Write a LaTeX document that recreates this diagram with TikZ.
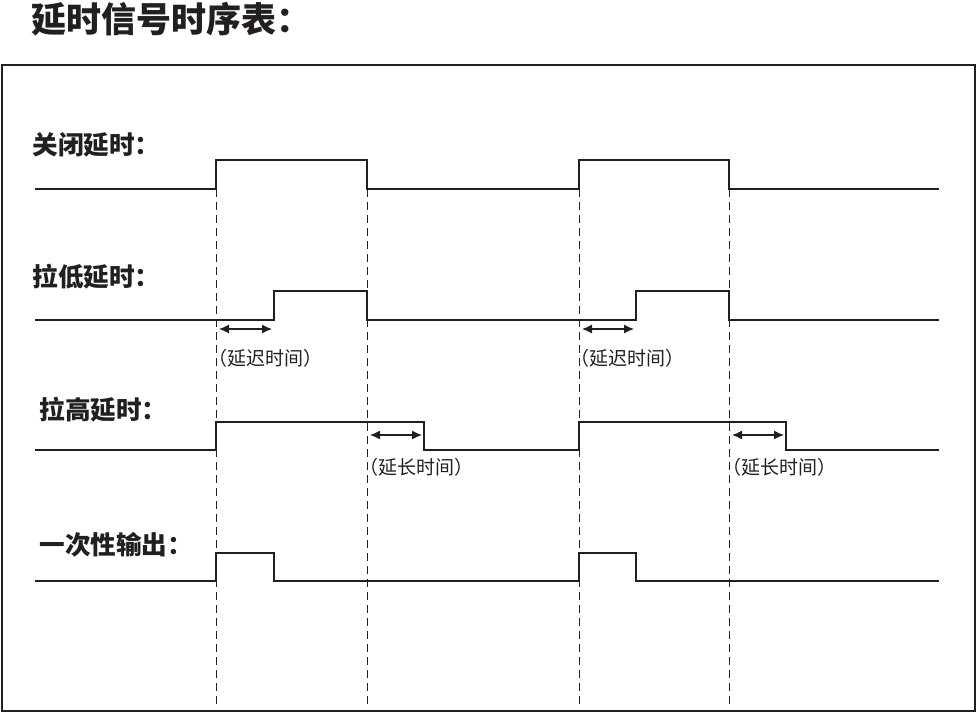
\documentclass[tikz,border=0pt]{standalone}
\usepackage{fontspec}
\newfontfamily\cjk{Noto Sans CJK SC}
\usetikzlibrary{arrows.meta}
\definecolor{ink}{RGB}{35,31,32}
\begin{document}
\begin{tikzpicture}[x=0.5pt,y=-0.5pt,
	every node/.style={inner sep=0pt, text=ink},
	wave/.style={draw=ink, line width=1.4pt},
	guide/.style={draw=ink, line width=0.5pt, dash pattern=on 4pt off 2.5pt},
	span/.style={draw=ink, line width=0.6pt, {Latex[length=5pt,width=4.5pt]}-{Latex[length=5pt,width=4.5pt]}},
	rowlabel/.style={anchor=west, font=\cjk\bfseries\fontsize{12.8pt}{12.8pt}\selectfont},
	note/.style={anchor=west, font=\cjk\fontsize{9.5pt}{9.5pt}\selectfont}]

	\useasboundingbox (0,0) rectangle (978,713);
	\node[anchor=west, font=\cjk\bfseries\fontsize{17.5pt}{17.5pt}\selectfont] (title) at (31,19) {延时信号时序表：};
	\draw[draw=ink, line width=1pt] (2,65) rectangle (975,711);

	% labels
	\node[rowlabel] (off) at (32,145) {关闭延时：};
	\node[rowlabel] (low) at (32,277) {拉低延时：};
	\node[rowlabel] (high) at (39,410) {拉高延时：};
	\node[rowlabel] (once) at (39,545) {一次性输出：};

	% guide lines
	\foreach \x in {216,367,579,729}
		\draw[guide] (\x,189) -- (\x,704);

	% waveforms
	\draw[wave] (35,189) -- (216,189) -- (216,160) -- (367,160) -- (367,189) -- (579,189)
		-- (579,160) -- (729,160) -- (729,189) -- (939,189);
	\draw[wave] (35,320) -- (274,320) -- (274,291) -- (367,291) -- (367,320) -- (636,320)
		-- (636,291) -- (729,291) -- (729,320) -- (939,320);
	\draw[wave] (35,450) -- (216,450) -- (216,422) -- (424,422) -- (424,450) -- (579,450)
		-- (579,422) -- (786,422) -- (786,450) -- (939,450);
	\draw[wave] (35,581) -- (216,581) -- (216,553) -- (274,553) -- (274,581) -- (579,581)
		-- (579,553) -- (636,553) -- (636,581) -- (939,581);

	% delays
	\coordinate (d1) at (219,329);
	\coordinate (d2) at (272,329);
	\coordinate (d3) at (582,329);
	\coordinate (d4) at (634,329);
	\coordinate (d5) at (370,435);
	\coordinate (d6) at (422,435);
	\coordinate (d7) at (732,435);
	\coordinate (d8) at (784,435);
	\draw[span] (d1) -- (d2);
	\draw[span] (d3) -- (d4);
	\draw[span] (d5) -- (d6);
	\draw[span] (d7) -- (d8);

	\node[note] (n1) at (208,358) {（延迟时间）};
	\node[note] (n2) at (570,358) {（延迟时间）};
	\node[note] (n3) at (359,467) {（延长时间）};
	\node[note] (n4) at (722,467) {（延长时间）};

\end{tikzpicture}
\end{document}
